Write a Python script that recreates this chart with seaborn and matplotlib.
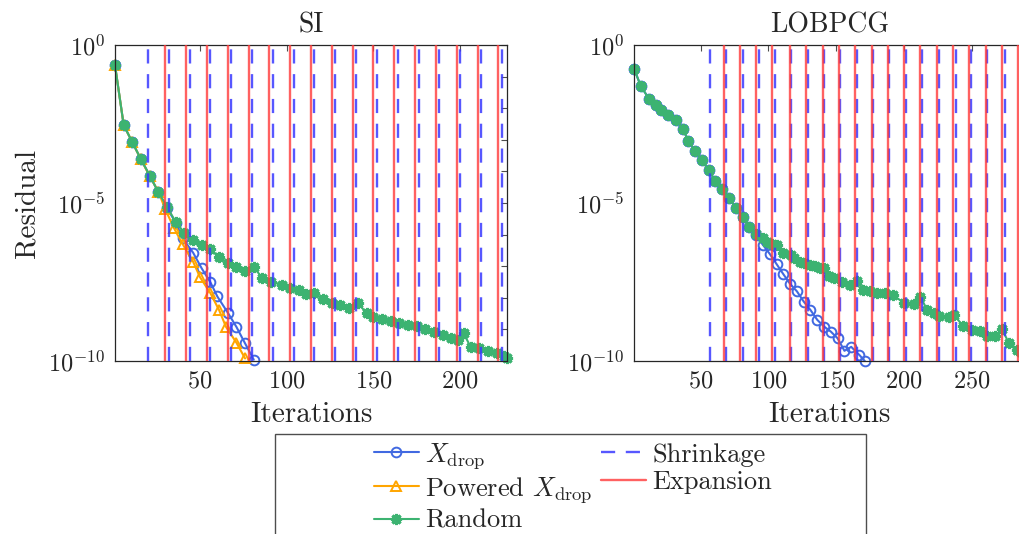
import numpy as np
import seaborn as sns
import matplotlib.pyplot as plt
import matplotlib.patches as mpatches

# ---- SI panel data ----
si_iter_xdrop = [1, 6, 11, 16, 21, 26, 31, 36, 40, 46, 51, 56, 60, 66, 71, 76, 81]
si_xdrop = [2.3e-1, 2.95e-3, 8.3e-4, 2.4e-4, 7.4e-5, 2.2e-5, 6.8e-6, 2.4e-6, 7.6e-7,
            2.7e-7, 8.5e-8, 3.1e-8, 1.1e-8, 3.4e-9, 1.2e-9, 3.6e-10, 1.1e-10]

si_iter_powered = [1, 6, 11, 16, 21, 26, 30, 35, 40, 46, 50, 56, 61, 65, 71, 76]
si_powered = [2.3e-1, 2.95e-3, 8.3e-4, 2.4e-4, 7.1e-5, 2.3e-5, 6.3e-6, 1.6e-6, 5.0e-7,
              1.4e-7, 4.5e-8, 1.4e-8, 4.1e-9, 1.2e-9, 3.8e-10, 1.2e-10]

si_iter_random = [1, 6, 11, 16, 21, 26, 31, 36, 41, 46, 51, 56, 61, 66, 71, 76, 81, 86,
                  91, 97, 102, 107, 111, 116, 121, 126, 131, 136, 141, 146, 150, 155,
                  160, 165, 170, 175, 180, 185, 190, 195, 199, 202, 206, 211, 216, 221,
                  225, 227]
si_random = [2.3e-1, 2.95e-3, 8.3e-4, 2.4e-4, 7.4e-5, 2.2e-5, 7.6e-6, 2.5e-6, 1.15e-6,
             6.8e-7, 4.8e-7, 3.5e-7, 1.9e-7, 1.23e-7, 9.3e-8, 6.8e-8, 9.3e-8, 4.2e-8,
             3.2e-8, 2.6e-8, 2.0e-8, 1.8e-8, 1.3e-8, 1.4e-8, 8.9e-9, 7.1e-9, 5.9e-9,
             4.7e-9, 7.1e-9, 3.2e-9, 2.5e-9, 2.2e-9, 1.9e-9, 1.6e-9, 1.4e-9, 1.26e-9,
             1.0e-9, 8.3e-10, 6.6e-10, 5.5e-10, 4.6e-10, 7.6e-10, 2.8e-10, 2.5e-10,
             2.1e-10, 1.8e-10, 1.4e-10, 1.2e-10]

si_shrink = [20, 32, 44, 56, 68, 80, 92, 104, 116, 128, 140, 152, 164, 176, 188, 200, 212, 224]
si_expand = [30, 42, 54, 66, 78, 90, 102, 114, 126, 138, 150, 162, 174, 186, 198, 210, 222]

# ---- LOBPCG panel data ----
lo_iter_xdrop = [1, 6, 12, 17, 21, 26, 32, 37, 41, 46, 51, 56, 61, 66, 71, 76, 81, 86,
                 91, 96, 101, 106, 111, 116, 121, 126, 131, 136, 141, 146, 151, 156,
                 161, 167, 171]
lo_xdrop = [1.8e-1, 5.0e-2, 2.0e-2, 1.26e-2, 8.7e-3, 6.0e-3, 4.3e-3, 2.2e-3, 9.3e-4,
            4.5e-4, 2.3e-4, 1.07e-4, 5.1e-5, 2.7e-5, 1.4e-5, 7.1e-6, 3.6e-6, 1.8e-6,
            9.5e-7, 4.7e-7, 2.45e-7, 1.17e-7, 5.6e-8, 2.75e-8, 1.6e-8, 7.6e-9, 4.1e-9,
            2.0e-9, 1.23e-9, 8.5e-10, 5.2e-10, 2.1e-10, 2.8e-10, 1.55e-10, 1.0e-10]

lo_iter_random = [1, 6, 12, 17, 21, 26, 32, 37, 41, 46, 51, 56, 61, 66, 71, 76, 81, 86,
                  91, 96, 99, 103, 106, 111, 117, 119, 123, 126, 131, 134, 138, 141,
                  145, 148, 154, 160, 165, 170, 175, 180, 186, 192, 200, 207, 212, 217,
                  222, 226, 233, 237, 243, 250, 256, 261, 267, 272, 277, 283, 286]
lo_random = [1.8e-1, 5.0e-2, 2.0e-2, 1.26e-2, 8.7e-3, 6.0e-3, 4.3e-3, 2.2e-3, 9.3e-4,
             4.5e-4, 2.3e-4, 1.07e-4, 5.1e-5, 2.7e-5, 1.4e-5, 7.1e-6, 3.6e-6, 1.8e-6,
             1.05e-6, 7.9e-7, 6.0e-7, 5.0e-7, 4.7e-7, 2.6e-7, 2.2e-7, 1.8e-7, 1.4e-7,
             1.3e-7, 1.1e-7, 1.0e-7, 8.5e-8, 8.5e-8, 5.0e-8, 4.2e-8, 3.2e-8, 2.6e-8,
             3.5e-8, 1.8e-8, 1.6e-8, 1.4e-8, 1.4e-8, 1.2e-8, 6.8e-9, 6.3e-9, 1.07e-8,
             4.1e-9, 3.3e-9, 2.6e-9, 2.5e-9, 2.9e-9, 1.3e-9, 9.5e-10, 8.9e-10, 6.3e-10,
             6.3e-10, 1.02e-9, 3.8e-10, 2.3e-10, 1.9e-10]

lo_shrink = [57, 69, 81, 93, 105, 117, 129, 141, 153, 165, 177, 189, 201, 213, 226, 238, 249, 261, 274, 286]
lo_expand = [67, 79, 91, 103, 116, 128, 140, 152, 164, 176, 188, 200, 212, 224, 236, 248, 260, 272, 284]

titles = ['SI', 'LOBPCG']
xlims = [(1, 227), (1, 289)]
xticks = [[50, 100, 150, 200], [50, 100, 150, 200, 250]]

c_xdrop = '#4169e1'
c_pow = '#ffa500'
c_rand = '#3cb371'
c_shr = '#3a3aff'
c_exp = '#ff3a3a'

sns.set_style('white')
plt.rcParams['font.family'] = 'serif'
plt.rcParams['font.serif'] = ['cmr10']
plt.rcParams['mathtext.fontset'] = 'cm'
plt.rcParams['axes.formatter.use_mathtext'] = True

fig = plt.figure(figsize=(10.19, 5.34), dpi=100)
ax1 = fig.add_axes([115 / 1019, 173 / 534, 392 / 1019, 316 / 534])
# right panel runs a little past the figure edge, as in the reference
ax2 = fig.add_axes([634 / 1019, 173 / 534, 391 / 1019, 316 / 534])


def draw_curve(ax, x, y, color, marker, **kw):
    sns.lineplot(x=x, y=y, ax=ax, color=color, marker=marker, linewidth=1.5,
                 estimator=None, sort=False, clip_on=False, **kw)


panels = [
    (ax1, si_iter_xdrop, si_xdrop, si_iter_powered, si_powered, si_iter_random, si_random, si_shrink, si_expand),
    (ax2, lo_iter_xdrop, lo_xdrop, None, None, lo_iter_random, lo_random, lo_shrink, lo_expand),
]

for i, (ax, xx, xv, px, pv, rx, rv, shr, exp) in enumerate(panels):
    draw_curve(ax, xx, xv, c_xdrop, 'o', markersize=7, markerfacecolor='none',
               markeredgecolor=c_xdrop, markeredgewidth=1.4, label=r'$X_{\mathrm{drop}}$')
    if px is not None:
        draw_curve(ax, px, pv, c_pow, '^', markersize=7, markerfacecolor='none',
                   markeredgecolor=c_pow, markeredgewidth=1.4, label=r'Powered $X_{\mathrm{drop}}$')
    draw_curve(ax, rx, rv, c_rand, (8, 2, 0), markersize=8, markeredgecolor=c_rand,
               markeredgewidth=2.2, label='Random')
    for j, s in enumerate(shr):
        ax.axvline(s, color=c_shr, lw=1.7, alpha=0.85, dashes=(6, 4.5),
                   label='Shrinkage' if j == 0 else None, zorder=3)
    for j, e in enumerate(exp):
        ax.axvline(e, color=c_exp, lw=1.7, alpha=0.8,
                   label='Expansion' if j == 0 else None, zorder=3)

    ax.set_yscale('log')
    ax.set_ylim(1e-10, 1)
    ax.set_xlim(*xlims[i])
    ax.set_xticks(xticks[i])
    ax.set_yticks([1e-10, 1e-5, 1])
    ax.set_yticks([10.0 ** k for k in range(-10, 1)], minor=True)
    ax.yaxis.set_minor_formatter(plt.NullFormatter())
    ax.tick_params(which='both', direction='in', top=True, right=True, length=4,
                   width=0.8, color='0.3', labelsize=17.5, pad=7)
    for sp in ax.spines.values():
        sp.set_color('0.15')
        sp.set_linewidth(0.9)
    ax.set_title(titles[i], fontsize=20, pad=9)
    ax.set_xlabel('Iterations', fontsize=21, labelpad=6)
    if ax.get_legend() is not None:
        ax.get_legend().remove()

ax1.set_ylabel('Residual', fontsize=21, labelpad=6)

handles, labels = ax1.get_legend_handles_labels()
fig.legend(handles, labels, ncol=2, loc='upper center',
           bbox_to_anchor=(573 / 1019, (534 - 428) / 534), frameon=False,
           fontsize=19, handlelength=1.7, handletextpad=0.25, columnspacing=0.3,
           labelspacing=0.15, borderpad=0)

box = mpatches.Rectangle((275 / 1019, -0.2), 591 / 1019, 0.2 + (534 - 434) / 534,
                         transform=fig.transFigure, fill=False, edgecolor='0.3',
                         linewidth=1.0, clip_on=False)
fig.add_artist(box)

fig.savefig('out.png', dpi=100)
